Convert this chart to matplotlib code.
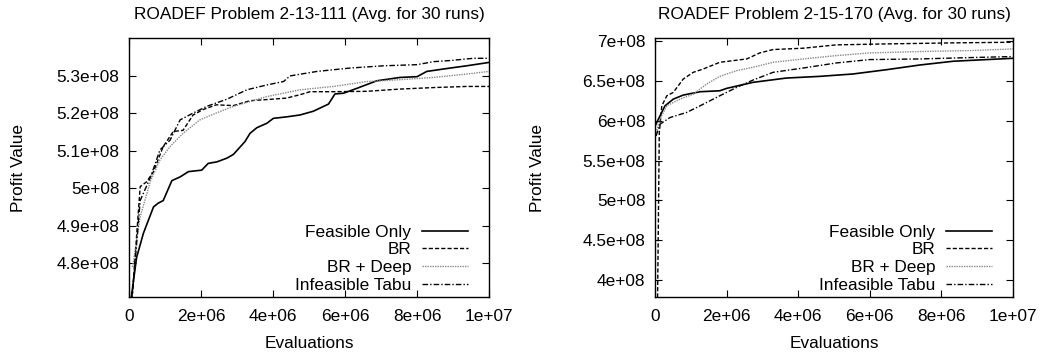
import matplotlib
matplotlib.use("Agg")
import matplotlib.pyplot as plt

plt.rcParams['font.family'] = ['Liberation Sans', 'DejaVu Sans']

labels = ["Feasible Only", "BR", "BR + Deep", "Infeasible Tabu"]
titles = ["ROADEF Problem 2-13-111 (Avg. for 30 runs)",
          "ROADEF Problem 2-15-170 (Avg. for 30 runs)"]

# ---- Left panel data (2-13-111) ----
l_fo_x = [0.05e6, 0.21e6, 0.40e6, 0.68e6, 0.81e6, 0.95e6, 1.19e6, 1.42e6, 1.65e6, 2.02e6, 2.2e6, 2.44e6,
          2.72e6, 2.9e6, 3.22e6, 3.36e6, 3.55e6, 3.83e6, 4.01e6, 4.38e6, 4.75e6, 5.12e6, 5.54e6, 5.72e6,
          5.96e6, 6.33e6, 6.88e6, 7.53e6, 8.0e6, 8.27e6, 8.92e6, 9.38e6, 1e7]
l_fo_y = [4.70e8, 4.815e8, 4.88e8, 4.95e8, 4.96e8, 4.967e8, 5.02e8, 5.03e8, 5.044e8, 5.048e8, 5.066e8, 5.07e8,
          5.08e8, 5.09e8, 5.124e8, 5.146e8, 5.161e8, 5.173e8, 5.186e8, 5.19e8, 5.195e8, 5.205e8, 5.224e8, 5.251e8,
          5.253e8, 5.266e8, 5.286e8, 5.295e8, 5.297e8, 5.311e8, 5.32e8, 5.326e8, 5.335e8]

l_br_x = [0.08e6, 0.31e6, 0.49e6, 0.68e6, 0.95e6, 1.23e6, 1.5e6, 1.78e6, 2.05e6, 2.42e6, 2.9e6, 3.36e6,
          3.83e6, 4.38e6, 4.75e6, 5.03e6, 5.68e6, 6.6e6, 7.53e6, 8.46e6, 9.38e6, 1e7]
l_br_y = [4.70e8, 5.004e8, 5.017e8, 5.044e8, 5.111e8, 5.151e8, 5.154e8, 5.195e8, 5.209e8, 5.222e8, 5.22e8, 5.233e8,
          5.236e8, 5.24e8, 5.249e8, 5.257e8, 5.257e8, 5.258e8, 5.264e8, 5.268e8, 5.271e8, 5.271e8]

l_bd_x = [0.1e6, 0.31e6, 0.6e6, 0.86e6, 1.14e6, 1.5e6, 1.97e6, 2.42e6, 2.9e6, 3.83e6, 4.75e6, 5.68e6,
          6.6e6, 7.53e6, 8.46e6, 9.38e6, 1e7]
l_bd_y = [4.79e8, 4.924e8, 5.02e8, 5.075e8, 5.111e8, 5.146e8, 5.182e8, 5.2e8, 5.218e8, 5.244e8, 5.262e8, 5.271e8,
          5.284e8, 5.289e8, 5.295e8, 5.304e8, 5.311e8]

l_it_x = [0.08e6, 0.31e6, 0.6e6, 0.86e6, 1.14e6, 1.42e6, 1.78e6, 2.16e6, 2.72e6, 3.27e6, 3.83e6, 4.29e6,
          4.47e6, 5.22e6, 6.14e6, 7.07e6, 8.0e6, 8.46e6, 8.92e6, 9.57e6, 1e7]
l_it_y = [4.70e8, 4.967e8, 5.03e8, 5.102e8, 5.128e8, 5.182e8, 5.2e8, 5.218e8, 5.237e8, 5.262e8, 5.275e8, 5.284e8,
          5.299e8, 5.311e8, 5.32e8, 5.326e8, 5.329e8, 5.337e8, 5.34e8, 5.346e8, 5.346e8]

# ---- Right panel data (2-15-170) ----
r_fo_x = [0.02e6, 0.14e6, 0.28e6, 0.51e6, 0.79e6, 1.26e6, 1.81e6, 2.0e6, 2.74e6, 3.67e6, 4.6e6, 5.53e6,
          6.47e6, 7.4e6, 8.33e6, 9.26e6, 1e7]
r_fo_y = [5.95e8, 6.062e8, 6.188e8, 6.272e8, 6.323e8, 6.365e8, 6.377e8, 6.407e8, 6.483e8, 6.537e8, 6.558e8, 6.588e8,
          6.642e8, 6.701e8, 6.748e8, 6.769e8, 6.785e8]

r_br_x = [0.07e6, 0.12e6, 0.19e6, 0.33e6, 0.51e6, 0.79e6, 1.07e6, 1.35e6, 1.81e6, 2.56e6, 2.93e6, 3.3e6,
          4.14e6, 5.07e6, 6.47e6, 8.33e6, 1e7]
r_br_y = [3.70e8, 5.85e8, 6.188e8, 6.314e8, 6.356e8, 6.525e8, 6.609e8, 6.651e8, 6.735e8, 6.777e8, 6.853e8, 6.895e8,
          6.912e8, 6.954e8, 6.966e8, 6.979e8, 6.987e8]

r_bd_x = [0.03e6, 0.14e6, 0.33e6, 0.7e6, 1.07e6, 1.44e6, 1.81e6, 2.28e6, 2.74e6, 3.3e6, 4.14e6, 5.07e6,
          6.0e6, 7.4e6, 8.79e6, 1e7]
r_bd_y = [5.85e8, 6.02e8, 6.188e8, 6.272e8, 6.335e8, 6.461e8, 6.558e8, 6.63e8, 6.672e8, 6.735e8, 6.777e8, 6.819e8,
          6.853e8, 6.87e8, 6.882e8, 6.903e8]

r_it_x = [0.03e6, 0.14e6, 0.42e6, 0.88e6, 1.26e6, 1.81e6, 2.28e6, 2.74e6, 3.3e6, 4.14e6, 5.07e6, 6.0e6,
          7.4e6, 8.79e6, 1e7]
r_it_y = [5.81e8, 5.957e8, 6.041e8, 6.104e8, 6.188e8, 6.314e8, 6.419e8, 6.512e8, 6.609e8, 6.663e8, 6.727e8, 6.769e8,
          6.777e8, 6.794e8, 6.807e8]

x_ticks = [0, 2e6, 4e6, 6e6, 8e6, 1e7]
x_ticklabels = ["0", "2e+06", "4e+06", "6e+06", "8e+06", "1e+07"]
l_yticks = [4.8e8, 4.9e8, 5.0e8, 5.1e8, 5.2e8, 5.3e8]
l_yticklabels = ["4.8e+08", "4.9e+08", "5e+08", "5.1e+08", "5.2e+08", "5.3e+08"]
r_yticks = [4.0e8, 4.5e8, 5.0e8, 5.5e8, 6.0e8, 6.5e8, 7.0e8]
r_yticklabels = ["4e+08", "4.5e+08", "5e+08", "5.5e+08", "6e+08", "6.5e+08", "7e+08"]

styles = [dict(color="black", linestyle="-", lw=1.2),
          dict(color="black", linestyle=(0, (3, 1.5)), lw=1.0),
          dict(color="#888888", linestyle=(0, (1, 0.8)), lw=1.0),
          dict(color="black", linestyle=(0, (4, 1.5, 1, 1.5)), lw=1.0)]

FS = 12.4

fig = plt.figure(figsize=(10.43, 3.54), dpi=100)
ax1 = fig.add_axes([0.1237, 0.161, 0.3452, 0.7316])
ax2 = fig.add_axes([0.628, 0.161, 0.3432, 0.7316])

panels = [
    (ax1, [(l_fo_x, l_fo_y), (l_br_x, l_br_y), (l_bd_x, l_bd_y), (l_it_x, l_it_y)],
     (4.71e8, 5.40e8), l_yticks, l_yticklabels, titles[0], -0.308),
    (ax2, [(r_fo_x, r_fo_y), (r_br_x, r_br_y), (r_bd_x, r_bd_y), (r_it_x, r_it_y)],
     (3.785e8, 7.04e8), r_yticks, r_yticklabels, titles[1], -0.327),
]

for ax, series, ylim, yt, ytl, title, ylx in panels:
    for (xs, ys), lab, st in zip(series, labels, styles):
        ax.plot(xs, ys, label=lab, **st)
    ax.set_xlim(0, 1e7)
    ax.set_ylim(*ylim)
    ax.set_xticks(x_ticks)
    ax.set_xticklabels(x_ticklabels)
    ax.set_yticks(yt)
    ax.set_yticklabels(ytl)
    ax.tick_params(direction="in", top=True, right=True, length=5, width=0.8, labelsize=FS)
    ax.tick_params(axis="x", pad=8.5)
    ax.tick_params(axis="y", pad=7)
    ax.set_xlabel("Evaluations", fontsize=FS, labelpad=8.5)
    ax.set_ylabel("Profit Value", fontsize=FS, va="center")
    ax.yaxis.set_label_coords(ylx, 0.5)
    ax.set_title(title, fontsize=FS, pad=14)
    for sp in ax.spines.values():
        sp.set_linewidth(1.0)
    ax.legend(loc="lower right", bbox_to_anchor=(0.942, 0.015), frameon=False, markerfirst=False,
              fontsize=FS, handlelength=2.7, handletextpad=0.6, labelspacing=0.16, borderpad=0, borderaxespad=0)

fig.savefig("out.png", dpi=100)
